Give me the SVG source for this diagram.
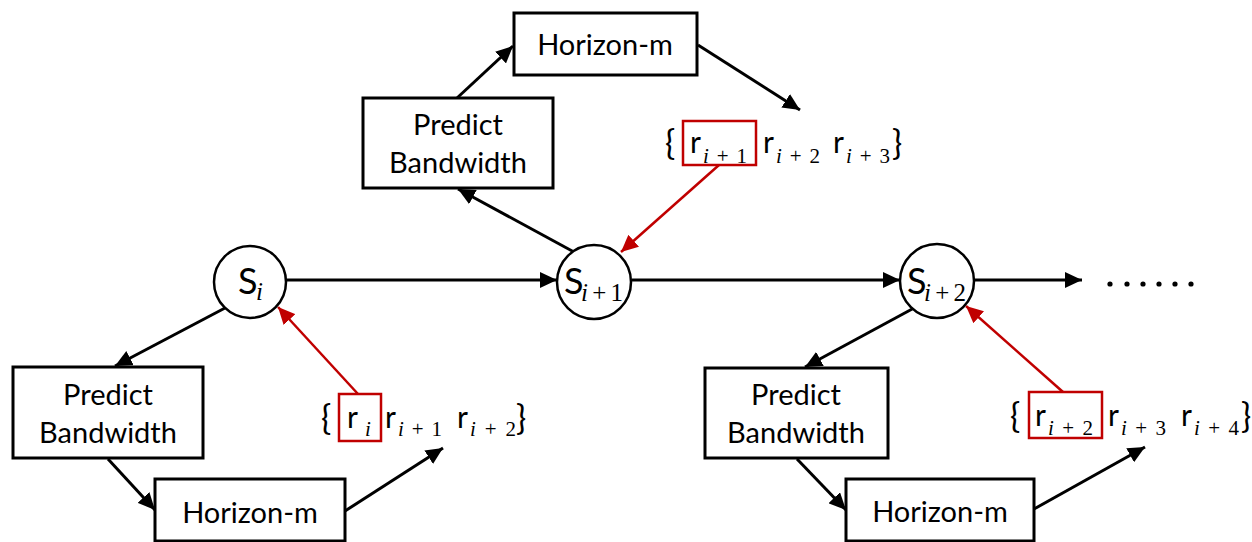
<svg xmlns="http://www.w3.org/2000/svg" width="1252" height="542" viewBox="0 0 1252 542">
<style>
.box{fill:#fff;stroke:#000;stroke-width:3}
.node{fill:#fff;stroke:#000;stroke-width:2.5}
.lbl{font-family:Lato,"Liberation Sans",sans-serif;font-size:29px;fill:#000;text-anchor:middle}
.m{font-family:Lato,"Liberation Sans",sans-serif;font-size:30px;fill:#000}
.br{font-family:Lato,"Liberation Sans",sans-serif;font-size:34px;fill:#000}
.S{font-family:Lato,"Liberation Sans",sans-serif;font-size:36px;fill:#000}
.sub{font-family:"Liberation Serif",serif;font-size:21px;fill:#000}
.subS{font-family:"Liberation Serif",serif;font-size:25px;fill:#000}
.it{font-style:italic}
.blk{stroke:#000;stroke-width:3;fill:none;marker-end:url(#ah)}
.red{stroke:#C00000;stroke-width:2.5;fill:none;marker-end:url(#ahr)}
.rbox{fill:none;stroke:#C00000;stroke-width:2.5}
</style>
<defs>
<marker id="ah" markerUnits="userSpaceOnUse" markerWidth="18" markerHeight="16" refX="17" refY="8" orient="auto"><path d="M0,0 L17,8 L0,16 z" fill="#000"/></marker>
<marker id="ahr" markerUnits="userSpaceOnUse" markerWidth="18" markerHeight="16" refX="17" refY="8" orient="auto"><path d="M0,0 L17,8 L0,16 z" fill="#C00000"/></marker>
</defs>
<rect width="1252" height="542" fill="#fff"/>
<g id="connectors">
<line class="blk" x1="287" y1="280" x2="557" y2="280"/>
<line class="blk" x1="632" y1="280" x2="900" y2="280"/>
<line class="blk" x1="975" y1="280" x2="1082" y2="280"/>
<line class="blk" x1="225" y1="308" x2="115" y2="366"/>
<line class="blk" x1="108" y1="459" x2="155" y2="510"/>
<line class="blk" x1="345" y1="511" x2="443" y2="448"/>
<line class="blk" x1="574" y1="252" x2="458" y2="189"/>
<line class="blk" x1="457" y1="98" x2="513" y2="46"/>
<line class="blk" x1="698" y1="45" x2="800" y2="110"/>
<line class="blk" x1="914" y1="308" x2="805" y2="367"/>
<line class="blk" x1="797" y1="459" x2="846" y2="510"/>
<line class="blk" x1="1034" y1="509" x2="1145" y2="447"/>
<line class="red" x1="358" y1="394" x2="278" y2="307"/>
<line class="red" x1="719" y1="165" x2="621" y2="252"/>
<line class="red" x1="1063" y1="392" x2="966" y2="306"/>
</g>
<g id="S_i">
<circle class="node" cx="250" cy="282" r="36"/>
<text class="S" x="238" y="294">S</text><text class="subS it" x="256" y="300">i</text>
</g>
<g id="S_i1">
<circle class="node" cx="594" cy="282" r="37"/>
<text class="S" x="564" y="294">S</text><text class="subS" x="581" y="301" textLength="42" lengthAdjust="spacing"><tspan class="it">i</tspan>+1</text>
</g>
<g id="S_i2">
<circle class="node" cx="937" cy="281" r="37"/>
<text class="S" x="907" y="294">S</text><text class="subS" x="924" y="301" textLength="42" lengthAdjust="spacing"><tspan class="it">i</tspan>+2</text>
</g>
<g id="dots" fill="#000">
<circle cx="1110" cy="284" r="2.6"/><circle cx="1127" cy="284" r="2.6"/><circle cx="1143" cy="284" r="2.6"/><circle cx="1159" cy="284" r="2.6"/><circle cx="1175" cy="284" r="2.6"/><circle cx="1191" cy="284" r="2.6"/>
</g>
<g id="pb_left">
<rect class="box" x="13" y="367" width="190" height="91"/>
<text class="lbl" x="108" y="405">Predict</text><text class="lbl" x="108" y="443">Bandwidth</text>
</g>
<g id="hm_left">
<rect class="box" x="155" y="479" width="190" height="62"/>
<text class="lbl" x="250" y="523">Horizon-m</text>
</g>
<g id="pb_top">
<rect class="box" x="363" y="98" width="190" height="90"/>
<text class="lbl" x="458" y="135">Predict</text><text class="lbl" x="458" y="173">Bandwidth</text>
</g>
<g id="hm_top">
<rect class="box" x="514" y="13" width="183" height="62"/>
<text class="lbl" x="605" y="55">Horizon-m</text>
</g>
<g id="pb_right">
<rect class="box" x="705" y="368" width="183" height="90"/>
<text class="lbl" x="796" y="405">Predict</text><text class="lbl" x="796" y="443">Bandwidth</text>
</g>
<g id="hm_right">
<rect class="box" x="846" y="479" width="188" height="62"/>
<text class="lbl" x="940" y="522">Horizon-m</text>
</g>
<g id="set_left">
<rect class="rbox" x="339" y="394" width="42" height="47"/>
<text class="br" x="321" y="430">{</text>
<text class="m" x="347" y="428">r</text><text class="sub it" x="365" y="436">i</text>
<text class="m" x="385" y="428">r</text><text class="sub" x="398" y="436" textLength="44" lengthAdjust="spacing"><tspan class="it">i</tspan>+1</text>
<text class="m" x="457" y="428">r</text><text class="sub" x="470" y="436" textLength="46" lengthAdjust="spacing"><tspan class="it">i</tspan>+2</text>
<text class="br" x="516" y="430">}</text>
</g>
<g id="set_top">
<rect class="rbox" x="683" y="121" width="73" height="44"/>
<text class="br" x="665" y="155">{</text>
<text class="m" x="690" y="153">r</text><text class="sub" x="703" y="163" textLength="44" lengthAdjust="spacing"><tspan class="it">i</tspan>+1</text>
<text class="m" x="763" y="153">r</text><text class="sub" x="776" y="163" textLength="44" lengthAdjust="spacing"><tspan class="it">i</tspan>+2</text>
<text class="m" x="833" y="153">r</text><text class="sub" x="846" y="163" textLength="44" lengthAdjust="spacing"><tspan class="it">i</tspan>+3</text>
<text class="br" x="892" y="155">}</text>
</g>
<g id="set_right">
<rect class="rbox" x="1029" y="392" width="73" height="46"/>
<text class="br" x="1010" y="428">{</text>
<text class="m" x="1035" y="426">r</text><text class="sub" x="1048" y="435" textLength="45" lengthAdjust="spacing"><tspan class="it">i</tspan>+2</text>
<text class="m" x="1108" y="426">r</text><text class="sub" x="1121" y="435" textLength="45" lengthAdjust="spacing"><tspan class="it">i</tspan>+3</text>
<text class="m" x="1181" y="426">r</text><text class="sub" x="1194" y="435" textLength="45" lengthAdjust="spacing"><tspan class="it">i</tspan>+4</text>
<text class="br" x="1241" y="428">}</text>
</g>
</svg>
